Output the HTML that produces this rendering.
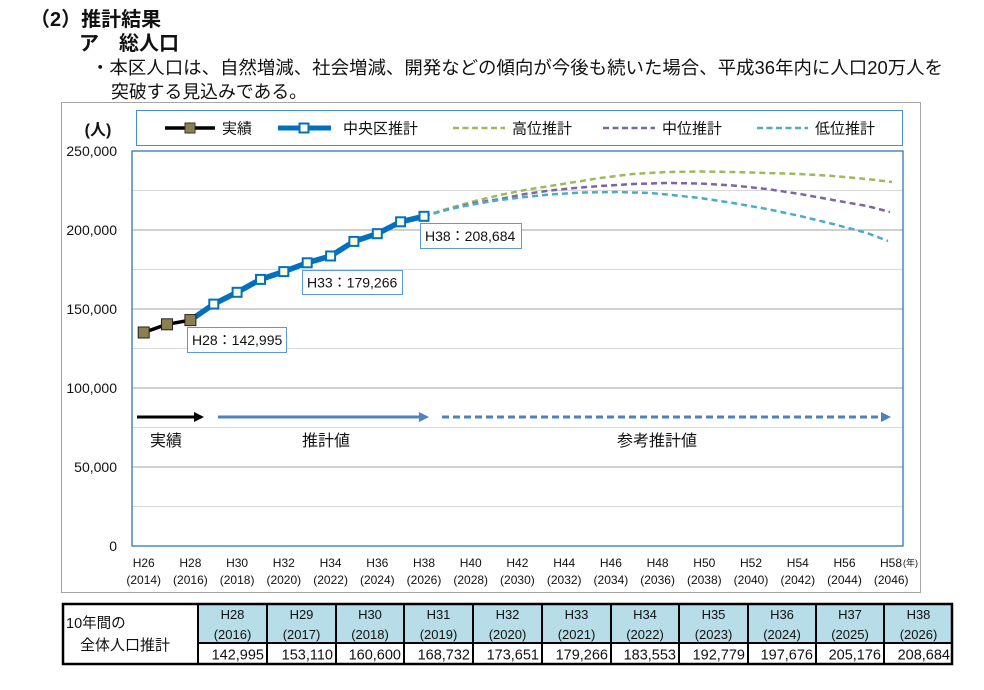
<!DOCTYPE html>
<html><head><meta charset="utf-8">
<style>
html,body{margin:0;padding:0;background:#fff;}
body{width:984px;height:690px;overflow:hidden;}
svg{display:block;}
text{font-family:"Liberation Sans","Noto Sans CJK JP",sans-serif;}
.jp{font-family:"Liberation Sans","Noto Sans CJK JP",sans-serif;}
</style></head>
<body>
<svg width="984" height="690" viewBox="0 0 984 690" xmlns="http://www.w3.org/2000/svg">
<!-- Headings -->
<text x="30" y="26" font-size="20" font-weight="bold" fill="#111">（2）推計結果</text>
<text x="79" y="50" font-size="20" font-weight="bold" fill="#111">ア　総人口</text>
<text x="91" y="74" font-size="18" fill="#111" textLength="852" lengthAdjust="spacingAndGlyphs">・本区人口は、自然増減、社会増減、開発などの傾向が今後も続いた場合、平成36年内に人口20万人を</text>
<text x="111" y="98" font-size="18" fill="#111" textLength="196" lengthAdjust="spacingAndGlyphs">突破する見込みである。</text>

<!-- Chart outer box -->
<rect x="61.5" y="102.5" width="859" height="490" fill="#fff" stroke="#a6a6a6" stroke-width="1"/>

<!-- Legend -->
<rect x="136.5" y="110.5" width="766" height="35" fill="#fff" stroke="#4a90c8" stroke-width="1"/>
<line x1="165" y1="128" x2="215" y2="128" stroke="#000" stroke-width="3.5"/>
<rect x="185" y="123" width="10" height="10" fill="#8b8050" stroke="#333" stroke-width="1"/>
<text x="222" y="133.5" font-size="15" fill="#111">実績</text>
<line x1="278" y1="128" x2="331" y2="128" stroke="#0070c0" stroke-width="5"/>
<rect x="299.5" y="123.5" width="9" height="9" fill="#ffffe0" stroke="#0070c0" stroke-width="2"/>
<text x="343" y="133.5" font-size="15" fill="#111">中央区推計</text>
<line x1="453" y1="128" x2="505" y2="128" stroke="#9bbb59" stroke-width="2.5" stroke-dasharray="6 3.5"/>
<text x="512" y="133.5" font-size="15" fill="#111">高位推計</text>
<line x1="603" y1="128" x2="655" y2="128" stroke="#8064a2" stroke-width="2.5" stroke-dasharray="6 3.5"/>
<text x="662" y="133.5" font-size="15" fill="#111">中位推計</text>
<line x1="757" y1="128" x2="808" y2="128" stroke="#4bacc6" stroke-width="2.5" stroke-dasharray="6 3.5"/>
<text x="815" y="133.5" font-size="15" fill="#111">低位推計</text>

<!-- (人) -->
<text x="98" y="135" font-size="16" font-weight="bold" fill="#111" text-anchor="middle">(人)</text>

<!-- Gridlines -->
<g stroke-width="1">
<line x1="132" y1="190.5" x2="903" y2="190.5" stroke="#d9d9d9"/>
<line x1="132" y1="230" x2="903" y2="230" stroke="#a0a0a0"/>
<line x1="132" y1="269.5" x2="903" y2="269.5" stroke="#d9d9d9"/>
<line x1="132" y1="309" x2="903" y2="309" stroke="#a0a0a0"/>
<line x1="132" y1="348.5" x2="903" y2="348.5" stroke="#d9d9d9"/>
<line x1="132" y1="388" x2="903" y2="388" stroke="#a0a0a0"/>
<line x1="132" y1="427.5" x2="903" y2="427.5" stroke="#d9d9d9"/>
<line x1="132" y1="467" x2="903" y2="467" stroke="#a0a0a0"/>
<line x1="132" y1="506.5" x2="903" y2="506.5" stroke="#d9d9d9"/>
</g>
<!-- Plot border -->
<rect x="132" y="151" width="771" height="395" fill="none" stroke="#2e75b6" stroke-width="1.3"/>

<!-- Y labels -->
<g font-size="14" fill="#111" text-anchor="end">
<text x="117" y="156">250,000</text>
<text x="117" y="235">200,000</text>
<text x="117" y="314">150,000</text>
<text x="117" y="393">100,000</text>
<text x="117" y="472">50,000</text>
<text x="117" y="551">0</text>
</g>

<!-- X labels -->
<g font-size="12" fill="#111" text-anchor="middle">
<text x="143.7" y="567">H26</text><text x="143.7" y="584">(2014)</text>
<text x="190.4" y="567">H28</text><text x="190.4" y="584">(2016)</text>
<text x="237.1" y="567">H30</text><text x="237.1" y="584">(2018)</text>
<text x="283.8" y="567">H32</text><text x="283.8" y="584">(2020)</text>
<text x="330.6" y="567">H34</text><text x="330.6" y="584">(2022)</text>
<text x="377.3" y="567">H36</text><text x="377.3" y="584">(2024)</text>
<text x="424.0" y="567">H38</text><text x="424.0" y="584">(2026)</text>
<text x="470.7" y="567">H40</text><text x="470.7" y="584">(2028)</text>
<text x="517.4" y="567">H42</text><text x="517.4" y="584">(2030)</text>
<text x="564.2" y="567">H44</text><text x="564.2" y="584">(2032)</text>
<text x="610.9" y="567">H46</text><text x="610.9" y="584">(2034)</text>
<text x="657.6" y="567">H48</text><text x="657.6" y="584">(2036)</text>
<text x="704.3" y="567">H50</text><text x="704.3" y="584">(2038)</text>
<text x="751.0" y="567">H52</text><text x="751.0" y="584">(2040)</text>
<text x="797.8" y="567">H54</text><text x="797.8" y="584">(2042)</text>
<text x="844.5" y="567">H56</text><text x="844.5" y="584">(2044)</text>
<text x="891.2" y="584">(2046)</text>
</g>
<text x="880" y="567" font-size="12" fill="#111">H58</text>
<text x="903" y="566" font-size="9" fill="#111">(年)</text>

<!-- Arrows -->
<line x1="137" y1="417" x2="196" y2="417" stroke="#000" stroke-width="3"/>
<polygon points="194,412 204,417 194,422" fill="#000"/>
<line x1="218" y1="417" x2="421" y2="417" stroke="#4f81bd" stroke-width="3"/>
<polygon points="419,412 429,417 419,422" fill="#4f81bd"/>
<line x1="442" y1="417" x2="882" y2="417" stroke="#4f81bd" stroke-width="3" stroke-dasharray="7 4"/>
<polygon points="881,412 891,417 881,422" fill="#4f81bd"/>
<text x="166" y="446" font-size="16" fill="#111" text-anchor="middle">実績</text>
<text x="326" y="446" font-size="16" fill="#111" text-anchor="middle">推計値</text>
<text x="657" y="446" font-size="16" fill="#111" text-anchor="middle">参考推計値</text>

<!-- Reference projections -->
<g fill="none" stroke-width="2.5" stroke-dasharray="6 4" stroke-linejoin="round">
<polyline stroke="#9bbb59" points="424,216 450,208 475,201 500,195 525,190 550,186 575,182 600,178 633,174 667,172 700,171.5 733,172 767,173 800,174 833,176 867,179 892,182"/>
<polyline stroke="#8064a2" points="424,216 450,209 475,203 500,199 525,194 550,190.5 575,188 600,186 633,184 667,183 700,183.5 733,185.5 767,189 800,194 833,200 867,206 890,212"/>
<polyline stroke="#4bacc6" points="424,216 450,209 475,204 500,200 525,197 550,194.5 583,192.5 617,192 650,193 667,194.5 700,198 733,203 767,209 800,216 833,224 867,233 888,241"/>
</g>

<!-- Chuo-ku projection -->
<polyline fill="none" stroke="#0070c0" stroke-width="5.5" stroke-linejoin="round" points="190.4,320.1 213.8,304.1 237.1,292.3 260.5,279.4 283.8,271.6 307.2,262.8 330.6,256.0 353.9,241.4 377.3,233.7 400.6,221.8 424.0,216.3"/>
<g fill="#ffffe0" stroke="#0070c0" stroke-width="2">
<rect x="209.3" y="299.6" width="9" height="9"/>
<rect x="232.6" y="287.8" width="9" height="9"/>
<rect x="256.0" y="274.9" width="9" height="9"/>
<rect x="279.3" y="267.1" width="9" height="9"/>
<rect x="302.7" y="258.3" width="9" height="9"/>
<rect x="326.1" y="251.5" width="9" height="9"/>
<rect x="349.4" y="236.9" width="9" height="9"/>
<rect x="372.8" y="229.2" width="9" height="9"/>
<rect x="396.1" y="217.3" width="9" height="9"/>
<rect x="419.5" y="211.8" width="9" height="9"/>
</g>

<!-- Actual -->
<polyline fill="none" stroke="#000" stroke-width="3.5" stroke-linejoin="round" points="143.7,332.5 167.0,324.3 190.4,320.1"/>
<g fill="#8b8050" stroke="#222" stroke-width="1">
<rect x="138.2" y="327" width="11" height="11"/>
<rect x="161.5" y="318.8" width="11" height="11"/>
<rect x="184.9" y="314.6" width="11" height="11"/>
</g>

<!-- Data labels -->
<g fill="#fff" stroke="#5b9bd5" stroke-width="1">
<rect x="187.5" y="327.5" width="99" height="25"/>
<rect x="302.5" y="270.5" width="100" height="24"/>
<rect x="420.5" y="223.5" width="101" height="25"/>
</g>
<g font-size="14" fill="#111">
<text x="192" y="345">H28：142,995</text>
<text x="307" y="287.5">H33：179,266</text>
<text x="425" y="241">H38：208,684</text>
</g>

<!-- Table -->
<g>
<rect x="198" y="603" width="755" height="40" fill="#b7dde8"/>
<rect x="63" y="604" width="889" height="60" fill="none" stroke="#000" stroke-width="2.5"/>
<line x1="198" y1="643" x2="953" y2="643" stroke="#000" stroke-width="2"/>
<g stroke="#000" stroke-width="2">
<line x1="198" y1="603" x2="198" y2="665"/>
<line x1="267" y1="603" x2="267" y2="665"/>
<line x1="336" y1="603" x2="336" y2="665"/>
<line x1="404" y1="603" x2="404" y2="665"/>
<line x1="473" y1="603" x2="473" y2="665"/>
<line x1="542" y1="603" x2="542" y2="665"/>
<line x1="611" y1="603" x2="611" y2="665"/>
<line x1="679" y1="603" x2="679" y2="665"/>
<line x1="748" y1="603" x2="748" y2="665"/>
<line x1="816" y1="603" x2="816" y2="665"/>
<line x1="884" y1="603" x2="884" y2="665"/>
</g>
<text x="66" y="628" font-size="14.5" fill="#111">10年間の</text>
<text x="80" y="650" font-size="15" fill="#111">全体人口推計</text>
<g font-size="13" fill="#111" text-anchor="middle">
<text x="232.5" y="619">H28</text><text x="232.5" y="639">(2016)</text>
<text x="301.5" y="619">H29</text><text x="301.5" y="639">(2017)</text>
<text x="370" y="619">H30</text><text x="370" y="639">(2018)</text>
<text x="438.5" y="619">H31</text><text x="438.5" y="639">(2019)</text>
<text x="507.5" y="619">H32</text><text x="507.5" y="639">(2020)</text>
<text x="576.5" y="619">H33</text><text x="576.5" y="639">(2021)</text>
<text x="645" y="619">H34</text><text x="645" y="639">(2022)</text>
<text x="713.5" y="619">H35</text><text x="713.5" y="639">(2023)</text>
<text x="782" y="619">H36</text><text x="782" y="639">(2024)</text>
<text x="850" y="619">H37</text><text x="850" y="639">(2025)</text>
<text x="918.5" y="619">H38</text><text x="918.5" y="639">(2026)</text>
</g>
<g font-size="14.5" fill="#111" text-anchor="end">
<text x="264" y="659.5">142,995</text>
<text x="333" y="659.5">153,110</text>
<text x="401" y="659.5">160,600</text>
<text x="470" y="659.5">168,732</text>
<text x="539" y="659.5">173,651</text>
<text x="608" y="659.5">179,266</text>
<text x="676" y="659.5">183,553</text>
<text x="745" y="659.5">192,779</text>
<text x="813" y="659.5">197,676</text>
<text x="881" y="659.5">205,176</text>
<text x="950" y="659.5">208,684</text>
</g>
</g>
</svg>
</body></html>
